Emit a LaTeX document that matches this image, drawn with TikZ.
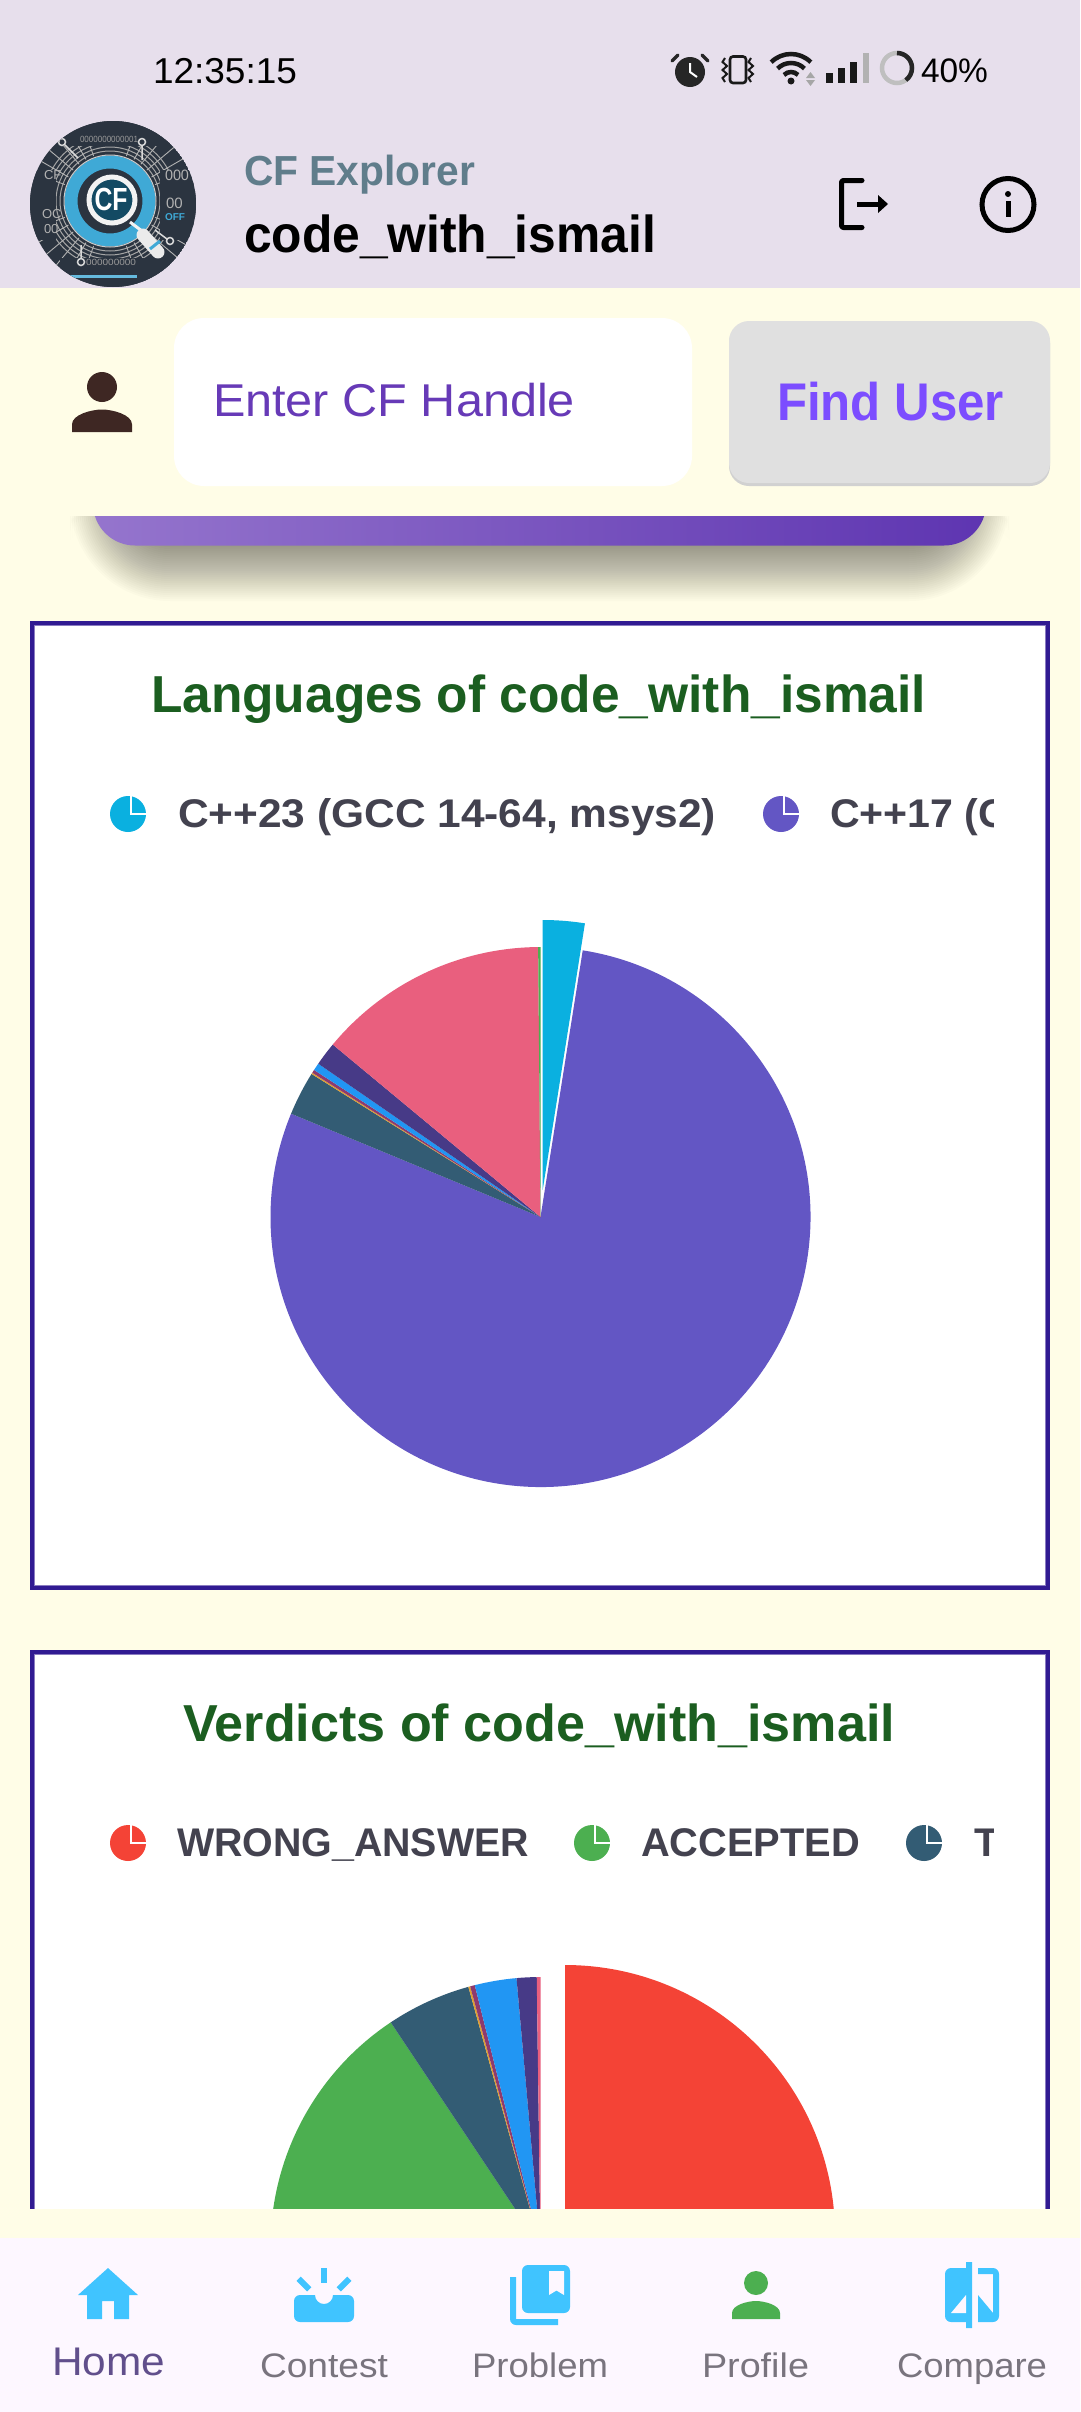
\documentclass[tikz,border=0pt]{standalone}
\usepackage{fontspec}
\usepackage{graphicx}
\setmainfont{Liberation Sans}
\usetikzlibrary{calc}
\definecolor{cream}{HTML}{FFFDE7}
\definecolor{headerbg}{HTML}{E7DFEC}
\definecolor{navbg}{HTML}{FDF7FF}
\definecolor{cardline}{HTML}{311B92}
\definecolor{cardhair}{HTML}{8A7CC0}
\definecolor{titlegreen}{HTML}{1B5E20}
\definecolor{legendtxt}{HTML}{43424F}
\definecolor{skyicon}{HTML}{40C4FF}
\definecolor{cfgrey}{HTML}{607D8B}
\definecolor{handlepurple}{HTML}{673AB7}
\definecolor{finduser}{HTML}{7C4DFF}
\definecolor{btngrey}{HTML}{E0E0E0}
\definecolor{brownperson}{HTML}{3E2723}
\definecolor{piecyan}{HTML}{0AB0E0}
\definecolor{piepurple}{HTML}{6356C4}
\definecolor{pieteal}{HTML}{335C74}
\definecolor{piedark}{HTML}{473A87}
\definecolor{piepink}{HTML}{E95F7E}
\definecolor{pieblue}{HTML}{2196F3}
\definecolor{piered}{HTML}{F44336}
\definecolor{piegreen}{HTML}{4CAF50}
\definecolor{piemaroon}{HTML}{8E3A6E}
\definecolor{pieyellow}{HTML}{E0A030}
\definecolor{homelabel}{HTML}{614F8C}
\definecolor{navlabel}{HTML}{79747E}
\definecolor{logodark}{HTML}{2B3440}
\definecolor{logoblue}{HTML}{3FA9D6}
\definecolor{logoteal}{HTML}{134A63}
\definecolor{barleft}{HTML}{9575CD}
\definecolor{barright}{HTML}{5E35B1}
\newcommand\fw[2]{\resizebox{#1pt}{\height}{#2}}
\newcommand\fsz[1]{\fontsize{#1}{#1}\selectfont}
\newcommand\slice[6]{\fill[#6] (#1,#2) -- ({#1+#5*sin(#3)},{#2-#5*cos(#3)}) arc[start angle={90-#3},end angle={90-#4},radius=#5pt] -- cycle;}
\newcommand\legendpie[3]{%
  \fill[#3] (#1,#2) circle (18pt);
  \fill[white] (#1+1.5,#2-19) rectangle (#1+4,#2+1.2);
  \fill[white] (#1+1.5,#2-1.2) rectangle (#1+19,#2+1.2);}
\tikzset{
  txt/.style={anchor=base west,inner sep=0pt,outer sep=0pt},
  titletxt/.style={txt,text=titlegreen},
  legendlabel/.style={txt,text=legendtxt},
  navtxt/.style={txt,text=navlabel},
  cardframe/.style={cardline,line width=4pt},
  cardinner/.style={cardhair,line width=1pt},
}
\begin{document}
\begin{tikzpicture}[x=1pt,y=-1pt]
\useasboundingbox (0,0) rectangle (1080,2412);
\fill[cream] (0,0) rectangle (1080,2412);
% ---------- purple bar with shadow
\begin{scope}
  \clip (0,516) rectangle (1080,640);
  \foreach \d in {-38,-36,...,38}{
    \pgfmathsetmacro{\rc}{62+\d}
    \fill[black,opacity=.0155,rounded corners=\rc pt] (108-\d,440) rectangle (971+\d,563+\d);
  }
  \shade[left color=barleft,right color=barright,rounded corners=42pt] (93,470) rectangle (986,545.5);
\end{scope}
% ---------- card 1
\fill[white] (32,623) rectangle (1048,1588);
\draw[cardinner] (34.5,625.5) rectangle (1045.5,1585.5);
\draw[cardframe] (32,623) rectangle (1048,1588);
\node[titletxt] (title1) at (151,712) {\fsz{52}\bfseries\fw{775}{Languages of code\_with\_ismail}};
\legendpie{128}{814}{piecyan}
\legendpie{781}{814}{piepurple}
\begin{scope}
  \clip (150,770) rectangle (993,850);
  \node[legendlabel] (leg1a) at (178,827) {\fsz{40}\bfseries\fw{538}{C++23 (GCC 14-64, msys2)}};
  \node[legendlabel] (leg1b) at (830,827) {\fsz{40}\bfseries\fw{240}{C++17 (GCC}};
\end{scope}
% pie 1
\slice{540.5}{1217}{9}{292.5}{270}{piepurple}
\slice{540.5}{1217}{292.5}{302}{270}{pieteal}
\slice{540.5}{1217}{302}{302.3}{270}{pieyellow}
\slice{540.5}{1217}{302.3}{303}{270}{piemaroon}
\slice{540.5}{1217}{303}{304.6}{270}{pieblue}
\slice{540.5}{1217}{304.6}{309.7}{270}{piedark}
\slice{540.5}{1217}{309.7}{359.5}{270}{piepink}
\slice{540.5}{1217}{359.5}{360}{270}{piegreen}
\slice{542.7}{1190}{0}{9}{270}{piecyan}
% ---------- card 2 (cut by the nav area)
\begin{scope}
  \clip (0,1640) rectangle (1080,2208);
  \fill[white] (32,1652) rectangle (1048,2300);
  \draw[cardinner] (34.5,1654.5) rectangle (1045.5,2300);
  \draw[cardframe] (32,1652) rectangle (1048,2300);
  \slice{540.5}{2247}{220}{326.3}{270}{piegreen}
  \slice{540.5}{2247}{326.3}{344.5}{270}{pieteal}
  \slice{540.5}{2247}{344.5}{344.9}{270}{pieyellow}
  \slice{540.5}{2247}{344.9}{345.9}{270}{piemaroon}
  \slice{540.5}{2247}{345.9}{354.9}{270}{pieblue}
  \slice{540.5}{2247}{354.9}{359.2}{270}{piedark}
  \slice{540.5}{2247}{359.2}{360}{270}{piepink}
  \slice{565}{2235}{0}{128}{270}{piered}
\end{scope}
\node[titletxt] (title2) at (183,1741) {\fsz{52}\bfseries\fw{712}{Verdicts of code\_with\_ismail}};
\legendpie{128}{1843}{piered}
\legendpie{592}{1843}{piegreen}
\legendpie{924}{1843}{pieteal}
\begin{scope}
  \clip (150,1800) rectangle (993,1880);
  \node[legendlabel] (leg2a) at (177,1856) {\fsz{40}\bfseries\fw{352}{WRONG\_ANSWER}};
  \node[legendlabel] (leg2b) at (641,1856) {\fsz{40}\bfseries\fw{219}{ACCEPTED}};
  \node[legendlabel] (leg2c) at (974,1856) {\fsz{40}\bfseries T};
\end{scope}
% ---------- header
\fill[headerbg] (0,0) rectangle (1080,288);
\node[txt] (clock) at (153,83) {\fsz{36}\fw{144}{12:35:15}};
\node[txt] (batt) at (921,82) {\fsz{34}\fw{67}{40\%}};
% alarm
\fill[black!85] (690,72) circle (15pt);
\draw[black!85,line width=3.5pt,line cap=round] (678,55)--(672,61) (702,55)--(708,61);
\draw[white,line width=2pt] (690,63)--(690,72)--(697,77);
% vibrate
\draw[black!90,line width=2.6pt,rounded corners=3pt] (730,56.5) rectangle (746,83);
\draw[black!90,line width=2pt] (725,58)--(722.5,62)--(727,66)--(722.5,70)--(727,74)--(722.5,78)--(725,82);
\draw[black!90,line width=2pt] (751,58)--(748.5,62)--(753,66)--(748.5,70)--(753,74)--(748.5,78)--(751,82);
% wifi
\foreach \r in {10,19,28}{
  \draw[black!90,line width=4.5pt] ({791+\r*cos(135)},{82-\r*sin(135)}) arc[start angle=135,end angle=45,radius=\r pt];
}
\fill[black!90] (791,81) circle (3.5pt);
\fill[black!35] (806,78)--(815,78)--(810.5,72)--cycle;
\fill[black!35] (806,80)--(815,80)--(810.5,86)--cycle;
% signal
\fill[black!90] (826,73) rectangle (833,83);
\fill[black!90] (838,68) rectangle (845,83);
\fill[black!90] (850,62) rectangle (857,83);
\fill[black!30] (863,53) rectangle (869,83);
% battery ring
\draw[black!25,line width=4.5pt] (897,68) circle (15pt);
\draw[black!85,line width=4.5pt] (897,53) arc[start angle=90,end angle=-54,radius=15pt];
% logo
\begin{scope}
  \clip (113,204) circle (83pt);
  \fill[logodark] (113,204) circle (83pt);
  \foreach \r in {50,54,58,62,66}{
    \draw[black!35,line width=1pt] (110,201) circle (\r pt);
  }
  \foreach \a in {20,30,...,70,110,120,...,160,200,210,...,250,290,300,...,340}{
    \draw[black!30,line width=.9pt] ({110+48*cos(\a)},{201-48*sin(\a)})--({110+95*cos(\a)},{201-95*sin(\a)});
  }
  \fill[logodark] (60,120) rectangle (170,146);
  \fill[logodark] (60,258) rectangle (170,287);
  \fill[logodark] (30,170) rectangle (56,240);
  \fill[logodark] (160,170) rectangle (196,240);
  \fill[logoblue!80!white] (70,275) rectangle (137,278);
  \node[txt,text=black!40] (lgtop) at (80,142) {\fsz{9}\fw{58}{0000000000001}};
  \node[txt,text=black!40] (lgbot) at (86,265) {\fsz{9}\fw{50}{000000000}};
  \node[txt,text=black!30] (lgcf) at (44,179) {\fsz{13}CF};
  \node[txt,text=black!30] (lgoo) at (165,180) {\fsz{15}\fw{24}{000}};
  \node[txt,text=black!30] (lgoo2) at (166,208) {\fsz{15}00};
  \node[txt,text=logoblue] (lgoff) at (165,220) {\fsz{10}\bfseries OFF};
  \node[txt,text=black!30] (lgoc) at (42,218) {\fsz{13}OC};
  \node[txt,text=black!30] (lgoo3) at (44,233) {\fsz{13}00};
  \draw[black!15,line width=1.5pt] (142,142) circle (3.5pt) (142,146)--(142,160);
  \draw[black!15,line width=1.5pt] (62,142) circle (3.5pt) (65,145)--(78,158);
  \draw[black!15,line width=1.5pt] (170,241) circle (3.5pt) (167,239)--(155,230);
  \draw[black!15,line width=1.5pt] (81,262) circle (3.5pt) (81,258)--(81,245);
\end{scope}
\draw[logoblue,line width=13pt] (110,201) circle (39pt);
\draw[black!20,line width=1pt] (110,201) circle (46pt);
\fill[logoteal] (112,200) circle (25pt);
\draw[black!5,line width=5pt] (112,200) circle (23pt);
\node[anchor=center,inner sep=0pt,text=white] (lgCF) at (111,199) {\fsz{32}\bfseries\fw{33}{CF}};
\draw[black!5,line width=3pt] (130,222)--(142,231);
\draw[black!8,line width=13pt,line cap=round] (143,235)--(158,252);
\draw[logoblue,line width=3pt] (150,249)--(160,241);
\node[txt,text=cfgrey] (appname) at (244,185) {\fsz{42}\bfseries\fw{231}{CF Explorer}};
\node[txt,text=black] (username) at (244,252) {\fsz{52}\bfseries\fw{412}{code\_with\_ismail}};
% logout
\draw[black,line width=5pt,line cap=round,line join=round,rounded corners=2pt] (862,180.5)--(841.5,180.5)--(841.5,227.5)--(862,227.5);
\draw[black,line width=5pt] (857,204)--(879,204);
\fill[black] (878,195)--(888,204)--(878,213)--cycle;
% info
\draw[black,line width=5pt] (1008,204.5) circle (26pt);
\fill[black] (1008,194) circle (3pt);
\fill[black] (1005.5,201) rectangle (1010.5,217);
% ---------- search row
\begin{scope}[shift={(57,357)},x=3.75pt,y=-3.75pt]
  \fill[brownperson] (12,8) circle (15pt);
  \fill[brownperson] (4,20)--(4,18) .. controls (4,15.3) and (9.33,14) .. (12,14) .. controls (14.67,14) and (20,15.3) .. (20,18) -- (20,20) -- cycle;
\end{scope}
\fill[white,rounded corners=30pt] (174,318) rectangle (692,486);
\node[txt,text=handlepurple] (handleinput) at (213,416) {\fsz{46}\fw{362}{Enter CF Handle}};
\fill[black!18,rounded corners=20pt] (729,323) rectangle (1050,486);
\fill[btngrey,rounded corners=20pt] (729,321) rectangle (1050,483);
\node[txt,text=finduser] (findbtn) at (777,420) {\fsz{53}\bfseries\fw{227}{Find User}};
% ---------- bottom nav
\fill[navbg] (0,2238) rectangle (1080,2412);
% home
\begin{scope}[shift={(72,2259)},x=3pt,y=-3pt]
  \fill[skyicon] (10,20)--(10,14)--(14,14)--(14,20)--(19,20)--(19,12)--(22,12)--(12,3)--(2,12)--(5,12)--(5,20)--cycle;
\end{scope}
% contest
\begin{scope}[shift={(288,2259)},x=3pt,y=-3pt]
  \fill[skyicon] (11,3) rectangle (13,8);
  \fill[skyicon] (21.16,7.26)--(19.75,5.85)--(16.19,9.4)--(17.6,10.81)--cycle;
  \fill[skyicon] (6.4,10.81)--(7.81,9.4)--(4.25,5.85)--(2.84,7.26)--cycle;
  \fill[skyicon] (20,12)--(15,12) .. controls (15,13.66) and (13.66,15) .. (12,15) .. controls (10.34,15) and (9,13.66) .. (9,12) -- (4,12) .. controls (2.9,12) and (2,12.9) .. (2,14) -- (2,19) .. controls (2,20.1) and (2.9,21) .. (4,21) -- (20,21) .. controls (21.1,21) and (22,20.1) .. (22,19) -- (22,14) .. controls (22,12.9) and (21.1,12) .. (20,12) -- cycle;
\end{scope}
% problem
\begin{scope}[shift={(504,2259)},x=3pt,y=-3pt]
  \fill[skyicon] (4,6)--(2,6)--(2,20) .. controls (2,21.1) and (2.9,22) .. (4,22) -- (18,22)--(18,20)--(4,20)--cycle;
  \fill[skyicon] (20,2)--(8,2) .. controls (6.9,2) and (6,2.9) .. (6,4) -- (6,16) .. controls (6,17.1) and (6.9,18) .. (8,18) -- (20,18) .. controls (21.1,18) and (22,17.1) .. (22,16) -- (22,4) .. controls (22,2.9) and (21.1,2) .. (20,2) -- cycle;
  \fill[navbg] (20,12)--(17.5,10.5)--(15,12)--(15,4)--(20,4)--cycle;
\end{scope}
% profile
\begin{scope}[shift={(720,2259)},x=3pt,y=-3pt]
  \fill[piegreen] (12,8) circle (12pt);
  \fill[piegreen] (4,20)--(4,18) .. controls (4,15.3) and (9.33,14) .. (12,14) .. controls (14.67,14) and (20,15.3) .. (20,18) -- (20,20) -- cycle;
\end{scope}
% compare
\begin{scope}[shift={(936,2259)},x=3pt,y=-3pt]
  \fill[skyicon] (19,3)--(14,3)--(14,5)--(19,5)--(19,18)--(14,12)--(14,21)--(19,21) .. controls (20.1,21) and (21,20.1) .. (21,19) -- (21,5) .. controls (21,3.9) and (20.1,3) .. (19,3) -- cycle;
  \fill[skyicon] (10,3)--(5,3) .. controls (3.9,3) and (3,3.9) .. (3,5) -- (3,19) .. controls (3,20.1) and (3.9,21) .. (5,21) -- (10,21)--(10,23)--(12,23)--(12,1)--(10,1)--cycle;
  \fill[navbg] (10,18)--(5,18)--(10,12)--cycle;
\end{scope}
\node[txt,text=homelabel] (navhome) at (52,2375) {\fsz{40}\fw{113}{Home}};
\node[navtxt] (navcontest) at (260,2377) {\fsz{34}\fw{128}{Contest}};
\node[navtxt] (navproblem) at (472,2377) {\fsz{34}\fw{136}{Problem}};
\node[navtxt] (navprofile) at (702,2377) {\fsz{34}\fw{107}{Profile}};
\node[navtxt] (navcompare) at (897,2377) {\fsz{34}\fw{150}{Compare}};
\end{tikzpicture}
\end{document}
